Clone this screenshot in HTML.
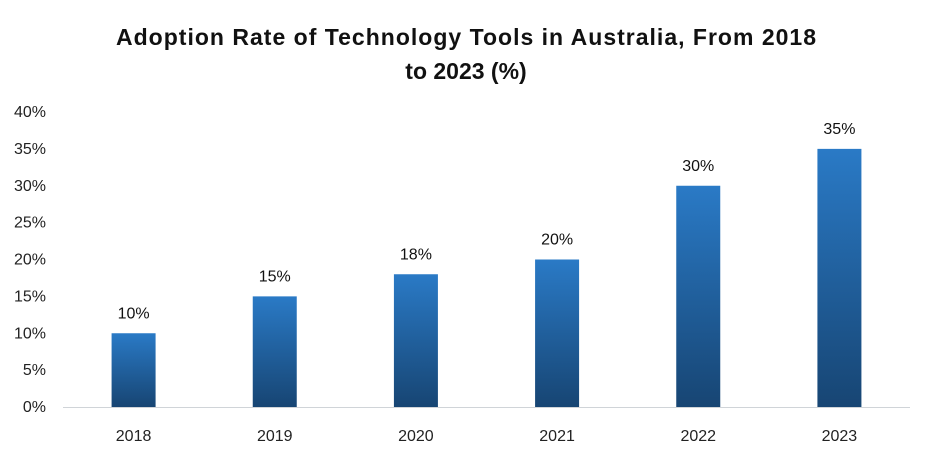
<!DOCTYPE html>
<html><head><meta charset="utf-8"><style>
body{margin:0;background:#fff;width:933px;height:456px;overflow:hidden;font-family:"Liberation Sans",Arial,sans-serif}
</style></head><body>
<svg width="933" height="456">
<defs><linearGradient id="g" x1="0" y1="0" x2="0" y2="1"><stop offset="0" stop-color="#2a7ac6"/><stop offset="1" stop-color="#174573"/></linearGradient></defs>
<text x="466" y="45" text-anchor="middle" font-size="23" font-weight="bold" fill="#111" textLength="700">Adoption Rate of Technology Tools in Australia, From 2018</text>
<text x="466" y="79" text-anchor="middle" font-size="23" font-weight="bold" fill="#111">to 2023 (%)</text>
<g id="yax"></g>
<line x1="63" y1="407.5" x2="910" y2="407.5" stroke="#d0d4d8" stroke-width="1"/>
<g id="bars"></g>
</svg>
<script>
const categories=["2018","2019","2020","2021","2022","2023"];
const values=[10,15,18,20,30,35];
const yTicks=[0,5,10,15,20,25,30,35,40];
const NS="http://www.w3.org/2000/svg";
const x0=63,x1=910,y0=407,yTop=112,yMax=40;
const y=v=>y0-(v/yMax)*(y0-yTop);
const bw=(x1-x0)/categories.length;
const xc=i=>x0+bw*(i+0.5);
function mk(t,a,txt){const e=document.createElementNS(NS,t);for(const k in a)e.setAttribute(k,a[k]);if(txt!=null)e.textContent=txt;return e;}
const ya=document.getElementById('yax');
yTicks.forEach(v=>{const t=mk('text',{x:46,y:y(v)+5,'text-anchor':'end','font-size':16,fill:'#222'},v+'%');


ya.appendChild(t);});
const bg=document.getElementById('bars');
categories.forEach((c,i)=>{
const r=mk('rect',{x:xc(i)-22,y:y(values[i]),width:44,height:y0-y(values[i]),fill:'url(#g)'});


bg.appendChild(r);
const l=mk('text',{x:xc(i),y:y(values[i])-15,'text-anchor':'middle','font-size':16,fill:'#111'},values[i]+'%');


bg.appendChild(l);
const xl=mk('text',{x:xc(i),y:441,'text-anchor':'middle','font-size':16,fill:'#222'},c);


bg.appendChild(xl);
});
</script>
</body></html>
